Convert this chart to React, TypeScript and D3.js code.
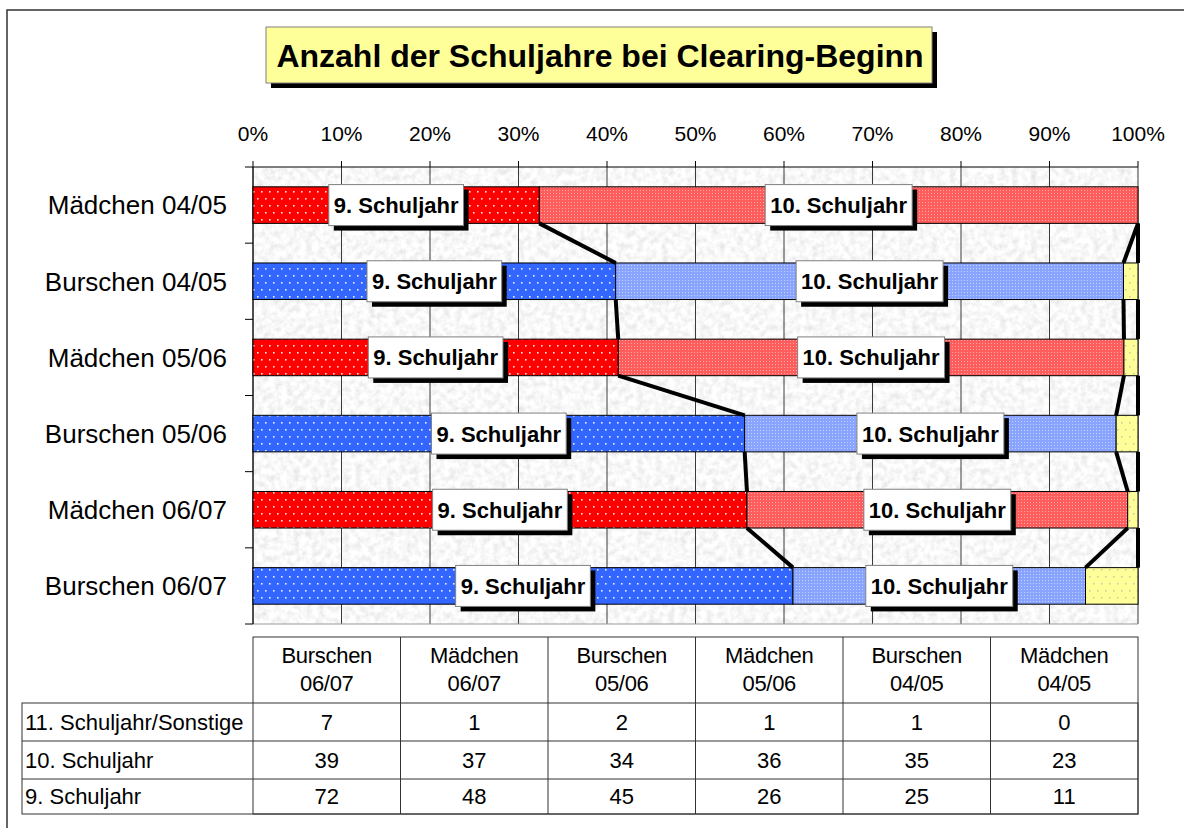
import React from "react";
import * as d3 from "d3";

// data (table order = order of the Excel sheet, chart draws it bottom-up)
const categories = ["Burschen 06/07", "Mädchen 06/07", "Burschen 05/06", "Mädchen 05/06", "Burschen 04/05", "Mädchen 04/05"];
const seriesNames = ["9. Schuljahr", "10. Schuljahr", "11. Schuljahr/Sonstige"];
const schuljahr9 = [72, 48, 45, 26, 25, 11];
const schuljahr10 = [39, 37, 34, 36, 35, 23];
const schuljahr11 = [7, 1, 2, 1, 1, 0];
const title = "Anzahl der Schuljahre bei Clearing-Beginn";

const W = 1184;
const H = 828;
const FONT = "'Liberation Sans', Arial, Helvetica, sans-serif";

const plot = { left: 253, right: 1138, top: 167, bottom: 624 };

let ctx: CanvasRenderingContext2D | null = null;
function textWidth(t: string, font: string) {
  if (!ctx && typeof document !== "undefined") ctx = document.createElement("canvas").getContext("2d");
  if (!ctx) return t.length * 10;
  ctx.font = font;
  return ctx.measureText(t).width;
}

const keys = ["s9", "s10", "s11"];
const rows = categories.map((c, i) => ({ cat: c, s9: schuljahr9[i], s10: schuljahr10[i], s11: schuljahr11[i] }));
const stacked = d3.stack<any>().keys(keys).offset(d3.stackOffsetExpand)(rows);

const isGirl = (c: string) => c.startsWith("Mädchen");
const fillFor = (c: string, k: number) =>
  k === 2 ? "url(#pYellow)" : isGirl(c) ? (k === 0 ? "url(#pRedDots)" : "url(#pRedFine)") : k === 0 ? "url(#pBlueDots)" : "url(#pBlueFine)";

const App = () => {
  const x = d3.scaleLinear().domain([0, 1]).range([plot.left, plot.right]);
  const y = d3
    .scaleBand<string>()
    .domain(categories)
    .range([plot.bottom, plot.top])
    .paddingInner(0.52)
    .paddingOuter(0.26);
  const bw = y.bandwidth();
  const step = y.step();
  const pct = d3.format(".0%");

  const tableRows = [
    { label: seriesNames[2], values: schuljahr11 },
    { label: seriesNames[1], values: schuljahr10 },
    { label: seriesNames[0], values: schuljahr9 },
  ];
  const col = d3.scaleBand<string>().domain(categories).range([plot.left, plot.right]);
  const tableTop = 637;
  const headerBottom = 703;
  const rowEdges = [703, 741, 779, 814];

  const labelFont = `bold 22px ${FONT}`;

  return (
    <svg width={W} height={H} style={{ position: "absolute", left: 0, top: 0, background: "#fff" }} fontFamily={FONT}>
      <defs>
        <filter id="granite" x="0" y="0" width="1" height="1">
          <feTurbulence type="fractalNoise" baseFrequency="0.16" numOctaves={3} seed={4} />
          <feColorMatrix
            type="matrix"
            values="0.4 0 0 0 0.74  0.4 0 0 0 0.74  0.4 0 0 0 0.74  0 0 0 0 1"
          />
        </filter>
        <pattern id="pRedDots" width="8" height="14" patternUnits="userSpaceOnUse">
          <rect width="8" height="14" fill="#ff0000" />
          <rect x="1" y="2" width="1.6" height="1.6" fill="#fff" opacity="0.9" />
          <rect x="5" y="9" width="1.6" height="1.6" fill="#fff" opacity="0.9" />
        </pattern>
        <pattern id="pBlueDots" width="8" height="14" patternUnits="userSpaceOnUse">
          <rect width="8" height="14" fill="#3366ff" />
          <rect x="1" y="2" width="1.6" height="1.6" fill="#fff" opacity="0.9" />
          <rect x="5" y="9" width="1.6" height="1.6" fill="#fff" opacity="0.9" />
        </pattern>
        <pattern id="pRedFine" width="3" height="3" patternUnits="userSpaceOnUse">
          <rect width="3" height="3" fill="#ff5c5c" />
          <rect x="1" y="1" width="1" height="1" fill="#ffaaaa" />
        </pattern>
        <pattern id="pBlueFine" width="3" height="3" patternUnits="userSpaceOnUse">
          <rect width="3" height="3" fill="#88a4ff" />
          <rect x="1" y="1" width="1" height="1" fill="#c4d2ff" />
        </pattern>
        <pattern id="pYellow" width="8" height="14" patternUnits="userSpaceOnUse">
          <rect width="8" height="14" fill="#ffff99" />
          <rect x="1" y="2" width="1.5" height="1.5" fill="#c8c8a0" />
          <rect x="5" y="9" width="1.5" height="1.5" fill="#c8c8a0" />
        </pattern>
      </defs>

      {/* outer frame */}
      <rect x={7} y={10} width={W + 20} height={H + 20} fill="none" stroke="#333" strokeWidth={1.5} />

      {/* title */}
      <rect x={271} y={32} width={666} height={56} fill="#000" />
      <rect x={266} y={27} width={666} height={56} fill="#ffff99" stroke="#808080" strokeWidth={1} />
      <text x={600} y={67} textAnchor="middle" fontWeight="bold" fontSize={32}>
        {title}
      </text>

      {/* plot background */}
      <rect
        x={plot.left}
        y={plot.top}
        width={plot.right - plot.left}
        height={plot.bottom - plot.top}
        fill="#fff"
        filter="url(#granite)"
      />
      {x.ticks(10).map((t) => (
        <line key={"g" + t} x1={x(t)} x2={x(t)} y1={plot.top} y2={plot.bottom} stroke="#3a3a3a" strokeWidth={1} />
      ))}
      <line x1={plot.right} x2={plot.right} y1={plot.top} y2={plot.bottom} stroke="#999" />
      <line x1={plot.left} x2={plot.right} y1={plot.bottom} y2={plot.bottom} stroke="#999" />

      {/* top axis */}
      <line x1={plot.left} x2={plot.right} y1={plot.top} y2={plot.top} stroke="#000" />
      {x.ticks(10).map((t) => (
        <g key={"t" + t}>
          <line x1={x(t)} x2={x(t)} y1={plot.top - 6} y2={plot.top} stroke="#000" />
          <text x={x(t)} y={141} textAnchor="middle" fontSize={21}>
            {pct(t)}
          </text>
        </g>
      ))}

      {/* left axis */}
      <line x1={plot.left} x2={plot.left} y1={plot.top} y2={plot.bottom} stroke="#000" />
      {d3.range(categories.length + 1).map((i) => (
        <line
          key={"lt" + i}
          x1={plot.left - 8}
          x2={plot.left}
          y1={plot.top + i * step}
          y2={plot.top + i * step}
          stroke="#000"
        />
      ))}
      {categories.map((c) => (
        <text key={"c" + c} x={227} y={(y(c) ?? 0) + bw / 2} dy="0.36em" textAnchor="end" fontSize={26}>
          {c}
        </text>
      ))}

      {/* bars */}
      {stacked.map((s, k) =>
        s.map((d, i) => {
          const c = categories[i];
          const w = x(d[1]) - x(d[0]);
          if (w <= 0) return null;
          return (
            <rect
              key={`b${k}-${i}`}
              x={x(d[0])}
              y={y(c)}
              width={w}
              height={bw}
              fill={fillFor(c, k)}
              stroke="#000"
              strokeWidth={1}
            />
          );
        })
      )}

      {/* series lines */}
      {stacked.map((s, k) =>
        s.slice(0, -1).map((d, i) => {
          const next = s[i + 1];
          return (
            <line
              key={`sl${k}-${i}`}
              x1={x(d[1])}
              y1={y(categories[i])}
              x2={x(next[1])}
              y2={(y(categories[i + 1]) ?? 0) + bw}
              stroke="#000"
              strokeWidth={4}
            />
          );
        })
      )}

      {/* data labels */}
      {stacked.slice(0, 2).map((s, k) =>
        s.map((d, i) => {
          const c = categories[i];
          const name = seriesNames[k];
          const tw = textWidth(name, labelFont);
          const bwid = tw + 10;
          const bh = 41;
          const cx = x((d[0] + d[1]) / 2);
          const cy = (y(c) ?? 0) + bw / 2;
          return (
            <g key={`l${k}-${i}`}>
              <rect x={cx - bwid / 2 + 5} y={cy - bh / 2 + 5} width={bwid} height={bh} fill="#000" />
              <rect x={cx - bwid / 2} y={cy - bh / 2} width={bwid} height={bh} fill="#fff" stroke="#808080" />
              <text x={cx} y={cy} dy="0.36em" textAnchor="middle" fontWeight="bold" fontSize={22}>
                {name}
              </text>
            </g>
          );
        })
      )}

      {/* data table */}
      <g stroke="#333" strokeWidth={1} fill="none">
        <rect x={plot.left} y={tableTop} width={plot.right - plot.left} height={rowEdges[3] - tableTop} />
        <rect x={22} y={headerBottom} width={plot.right - 22} height={rowEdges[3] - headerBottom} />
        {rowEdges.slice(1, 3).map((e) => (
          <line key={"re" + e} x1={22} x2={plot.right} y1={e} y2={e} />
        ))}
        {categories.slice(1).map((c) => (
          <line key={"ce" + c} x1={col(c)} x2={col(c)} y1={tableTop} y2={rowEdges[3]} />
        ))}
      </g>
      {categories.map((c) => {
        const parts = c.split(" ");
        const cx = (col(c) ?? 0) + col.bandwidth() / 2;
        return (
          <g key={"h" + c} fontSize={22} textAnchor="middle" letterSpacing={-0.3}>
            <text x={cx} y={663}>{parts[0]}</text>
            <text x={cx} y={691}>{parts[1]}</text>
          </g>
        );
      })}
      {tableRows.map((r, ri) => {
        const mid = (rowEdges[ri] + rowEdges[ri + 1]) / 2;
        return (
          <g key={"r" + r.label} fontSize={22}>
            <text x={25} y={mid} dy="0.36em">
              {r.label}
            </text>
            {r.values.map((v, i) => (
              <text key={i} x={(col(categories[i]) ?? 0) + col.bandwidth() / 2} y={mid} dy="0.36em" textAnchor="middle">
                {v}
              </text>
            ))}
          </g>
        );
      })}
    </svg>
  );
};

export default App;
